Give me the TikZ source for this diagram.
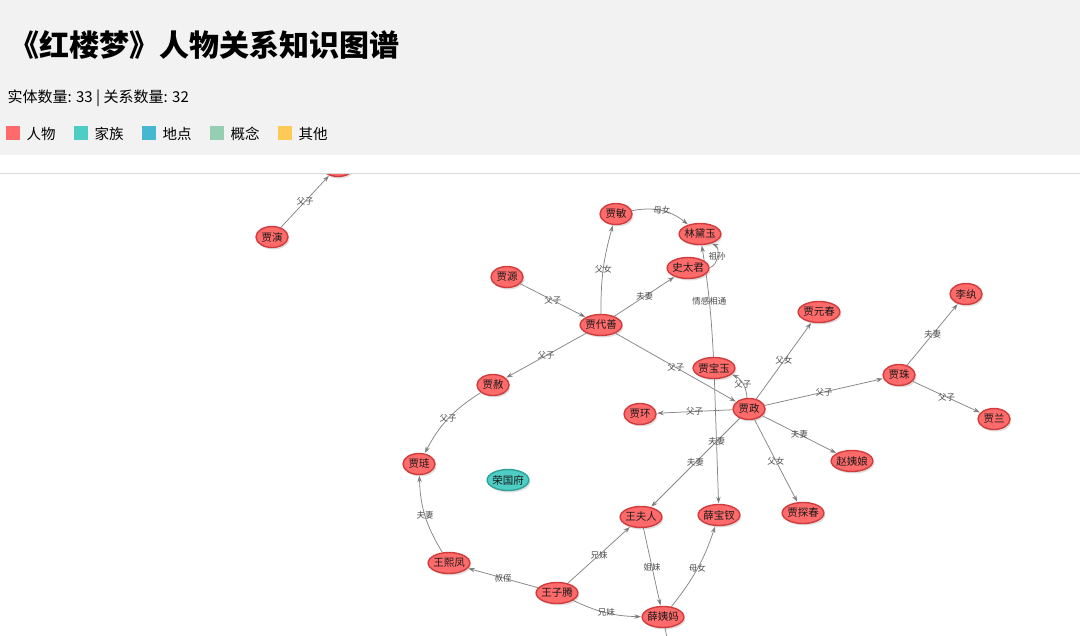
\documentclass[tikz,border=0pt]{standalone}
\usepackage{fontspec}
\newfontfamily\cjk{Noto Sans CJK SC}
\usetikzlibrary{arrows.meta,shapes,shadows,backgrounds}

\definecolor{person}{HTML}{FF6B6B}
\definecolor{personline}{HTML}{D03C3C}
\definecolor{family}{HTML}{4ECDC4}
\definecolor{familyline}{HTML}{2FA39A}
\definecolor{place}{HTML}{45B7D1}
\definecolor{concept}{HTML}{96CEB4}
\definecolor{other}{HTML}{FECA57}
\definecolor{headbg}{HTML}{F2F2F2}
\definecolor{edgegray}{HTML}{858585}
\definecolor{labelgray}{HTML}{4A4A4A}

\begin{document}
\begin{tikzpicture}[
  x=1pt, y=-1pt,
  >={Stealth[length=6.5pt,width=4.5pt]},
  font=\cjk,
  person/.style={
    ellipse,
    fill=person,
    draw=personline,
    line width=1.4pt,
    minimum width=32pt,
    minimum height=21pt,
    inner xsep=-1pt,
    inner ysep=0pt,
    font=\cjk\fontsize{10.5}{10.5}\selectfont,
    text=black!90,
    drop shadow={shadow xshift=1.5pt, shadow yshift=-2pt, opacity=.25}
  },
  clan/.style={person, fill=family, draw=familyline},
  rel/.style={->, draw=edgegray, line width=.75pt, shorten >=.5pt},
  lbl/.style={font=\cjk\fontsize{8.5}{8.5}\selectfont, text=labelgray, anchor=center, inner sep=0pt},
  legendbox/.style={fill=#1, minimum size=14pt, inner sep=0pt}
  ]

  \useasboundingbox (0,0) rectangle (1080,636);

  % header
  \fill[headbg] (0,0) rectangle (1080,155);
  \draw[black!15, line width=1pt] (0,174) -- (1080,174);

  \node[anchor=west, font=\cjk\bfseries\fontsize{30}{30}\selectfont] (title) at (6,45) {《红楼梦》人物关系知识图谱};
  \node[anchor=west, font=\cjk\fontsize{15}{15}\selectfont] (stats) at (4,98) {实体数量: 33 | 关系数量: 32};

  \foreach \c/\t [count=\i] in {person/人物, family/家族, place/地点, concept/概念, other/其他} {
    \node[legendbox=\c] (key\i) at ({13+68*(\i-1)},133) {};
    \node[anchor=west, font=\cjk\fontsize{14.5}{14.5}\selectfont] (keytext\i) at ({23+68*(\i-1)},134) {\t};
  }

  % graph
  \begin{scope}
    \clip (0,175) rectangle (1080,636);

    \node[person] (daihua) at (338,166) {};
    \node[person] (jiayan) at (272,237) {贾演};
    \node[person] (jiamin) at (616,214) {贾敏};
    \node[person] (daiyu) at (700,234) {林黛玉};
    \node[person] (taijun) at (688,268) {史太君};
    \node[person] (jiayuan) at (507,277) {贾源};
    \node[person] (daishan) at (601,325) {贾代善};
    \node[person] (yuanchun) at (819,312) {贾元春};
    \node[person] (liwan) at (966,294) {李纨};
    \node[person] (baoyu) at (714,368) {贾宝玉};
    \node[person] (jiazhu) at (899,375) {贾珠};
    \node[person] (jiashe) at (493,385) {贾赦};
    \node[person] (jiahuan) at (640,414) {贾环};
    \node[person] (jiazheng) at (749,409) {贾政};
    \node[person] (jialan) at (994,419) {贾兰};
    \node[person] (yiniang) at (852,461) {赵姨娘};
    \node[person] (jialian) at (419,464) {贾琏};
    \node[clan] (rongguo) at (508,480) {荣国府};
    \node[person] (wangfuren) at (641,517) {王夫人};
    \node[person] (baochai) at (719,515) {薛宝钗};
    \node[person] (tanchun) at (803,513) {贾探春};
    \node[person] (xifeng) at (449,563) {王熙凤};
    \node[person] (ziteng) at (557,593) {王子腾};
    \node[person] (xueyima) at (663,617) {薛姨妈};
    \coordinate (xuepan) at (673,670);
  \end{scope}

  \begin{pgfonlayer}{background}
  \begin{scope}
    \clip (0,175) rectangle (1080,636);

    \path[rel] (jiayan) edge node[lbl] {父子} (daihua);
    \path[rel] (jiayuan) edge node[lbl] {父子} (daishan);
    \path[rel] (daishan) edge[bend left=8] node[lbl] {父女} (jiamin);
    \path[rel] (daishan) edge node[lbl] {夫妻} (taijun);
    \path[rel] (jiamin) edge[bend left=25] node[lbl] {母女} (daiyu);
    \path[rel] (taijun) edge[bend right=70] node[lbl] {祖孙} (daiyu);
    \path[rel] (baoyu) edge[bend right=3] node[lbl] {情感相通} (daiyu);
    \path[rel] (daishan) edge node[lbl] {父子} (jiashe);
    \path[rel] (daishan) edge node[lbl] {父子} (jiazheng);
    \path[rel] (jiazheng) edge[bend right=30] node[lbl] {父子} (baoyu);
    \path[rel] (jiazheng) edge node[lbl] {父女} (yuanchun);
    \path[rel] (jiazheng) edge node[lbl] {父子} (jiazhu);
    \path[rel] (jiazhu) edge node[lbl] {夫妻} (liwan);
    \path[rel] (jiazhu) edge node[lbl] {父子} (jialan);
    \path[rel] (jiazheng) edge node[lbl] {父子} (jiahuan);
    \path[rel] (jiazheng) edge node[lbl] {夫妻} (yiniang);
    \path[rel] (jiazheng) edge node[lbl] {父女} (tanchun);
    \path[rel] (jiazheng) edge node[lbl] {夫妻} (wangfuren);
    \path[rel] (baoyu) edge node[lbl] {夫妻} (baochai);
    \path[rel] (jiashe) edge[bend right=15] node[lbl] {父子} (jialian);
    \path[rel] (xifeng) edge[bend left=15] node[lbl] {夫妻} (jialian);
    \path[rel] (ziteng) edge node[lbl] {叔侄} (xifeng);
    \path[rel] (ziteng) edge node[lbl] {兄妹} (wangfuren);
    \path[rel] (ziteng) edge[bend right=12] node[lbl] {兄妹} (xueyima);
    \path[rel] (wangfuren) edge node[lbl] {姐妹} (xueyima);
    \path[rel] (xueyima) edge[bend right=10] node[lbl] {母女} (baochai);
    \path[rel] (xueyima) edge (xuepan);
  \end{scope}
  \end{pgfonlayer}

\end{tikzpicture}
\end{document}
